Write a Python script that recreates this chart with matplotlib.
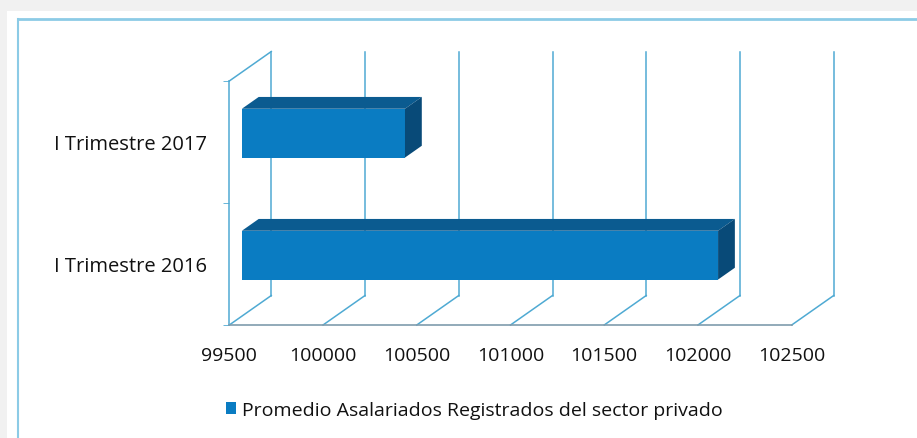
import numpy as np
import matplotlib
matplotlib.use("Agg")
import matplotlib.pyplot as plt
from matplotlib.patches import Polygon, Rectangle
from matplotlib.lines import Line2D

plt.rcParams['font.family'] = ['Open Sans', 'DejaVu Sans']

categories = ["I Trimestre 2016", "I Trimestre 2017"]
values = [102040, 100370]
series_name = "Promedio Asalariados Registrados del sector privado"
xticks = [99500, 100000, 100500, 101000, 101500, 102000, 102500]

W, H = 917, 439
fig = plt.figure(figsize=(W / 100, H / 100), dpi=100)
fig.patch.set_facecolor("#f1f1f1")

# white panel + light blue frame (pixel coords -> figure fraction)
def fx(px):
    return px / W

def fy(py):
    return 1 - py / H

fig.patches.append(Rectangle((fx(7), 0), 1, fy(12), transform=fig.transFigure,
                             facecolor="white", edgecolor="none", zorder=-5))
fig.lines.append(Line2D([fx(18), 1.0], [fy(20), fy(20)], transform=fig.transFigure,
                        color="#8ccbe6", lw=2, zorder=-4))
fig.lines.append(Line2D([fx(18), fx(18)], [0, fy(20)], transform=fig.transFigure,
                        color="#8ccbe6", lw=1.5, zorder=-4))

# front plane of the plot: x 99500..102500 -> px 229..792, y 0..2 -> px 326..82
x0, x1 = 229.3, 791.7
ytop, ybot = 82, 326
ax = fig.add_axes([fx(x0), fy(ybot), (x1 - x0) / W, (ybot - ytop) / H])
ax.set_xlim(xticks[0], xticks[-1])
ax.set_ylim(0, 2)
ax.patch.set_alpha(0)

# depth of the 3d box in data units
DX = 42 / ((x1 - x0) / (xticks[-1] - xticks[0]))
DY = 29.5 / ((ybot - ytop) / 2)

grid_c = "#4faad3"
for v in xticks:
    ax.plot([v, v + DX], [0, DY], color=grid_c, lw=1.1, clip_on=False, zorder=1)
    ax.plot([v + DX, v + DX], [DY, 2 + DY], color=grid_c, lw=1.1, clip_on=False, zorder=1)
# left wall top edge
ax.plot([xticks[0], xticks[0] + DX], [2, 2 + DY], color=grid_c, lw=1.1, clip_on=False, zorder=1)

for s in ["top", "right"]:
    ax.spines[s].set_visible(False)
ax.spines["left"].set_color(grid_c)
ax.spines["bottom"].set_color("#7f9cad")
ax.spines["left"].set_linewidth(1.1)
ax.spines["bottom"].set_linewidth(1.2)

# bars
d0, d1 = 0.30, 0.70
bh = 0.40
ypos = np.arange(len(categories)) + 0.5
front = "#0a7cc2"
top_c = "#0b5b90"
side_c = "#084a78"
bars = ax.barh(ypos + d0 * DY, np.array(values) - xticks[0], left=xticks[0] + d0 * DX,
               height=bh, color=front, edgecolor="none", clip_on=False, zorder=3,
               label=series_name)
for yc, v in zip(ypos, values):
    ox, oy = d0 * DX, d0 * DY
    dx, dy = (d1 - d0) * DX, (d1 - d0) * DY
    yt = yc + oy + bh / 2
    yb = yc + oy - bh / 2
    xl = xticks[0] + ox
    xr = v + ox
    ax.add_patch(Polygon([[xl, yt], [xr, yt], [xr + dx, yt + dy], [xl + dx, yt + dy]],
                         closed=True, facecolor=top_c, edgecolor="none", clip_on=False, zorder=3))
    ax.add_patch(Polygon([[xr, yb], [xr, yt], [xr + dx, yt + dy], [xr + dx, yb + dy]],
                         closed=True, facecolor=side_c, edgecolor="none", clip_on=False, zorder=3))

ax.set_xticks(xticks)
ax.set_xticklabels([str(t) for t in xticks], fontsize=14, color="#111111")
ax.tick_params(axis="x", length=0, pad=15)
ax.set_yticks(ypos)
ax.set_yticklabels(categories, fontsize=14.5, color="#111111")
ax.tick_params(axis="y", which="major", length=0, pad=16)
ax.set_yticks([0, 1, 2], minor=True)
ax.tick_params(axis="y", which="minor", length=4, color=grid_c)

fig.legend(handles=[bars], labels=[series_name], loc="center left",
           bbox_to_anchor=(fx(216), fy(411)), frameon=False, fontsize=14,
           labelcolor="#111111",
           handlelength=0.55, handleheight=0.55, handletextpad=0.3, borderpad=0)

fig.savefig("out.png", dpi=100)
